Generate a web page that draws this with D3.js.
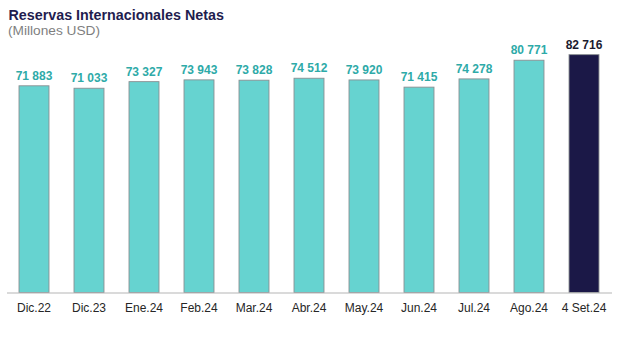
<!DOCTYPE html>
<html>
<head>
<meta charset="utf-8">
<script src="https://cdn.jsdelivr.net/npm/d3@7"></script>
<style>
  html, body { margin: 0; padding: 0; background: #fff; }
  svg { display: block; font-family: "Liberation Sans", Arial, sans-serif; }
</style>
</head>
<body>
<svg id="chart" width="620" height="339"></svg>
<script>
// Reservas Internacionales Netas, millones de USD
const categories = ["Dic.22", "Dic.23", "Ene.24", "Feb.24", "Mar.24", "Abr.24",
                    "May.24", "Jun.24", "Jul.24", "Ago.24", "4 Set.24"];
const values = [71883, 71033, 73327, 73943, 73828, 74512, 73920, 71415, 74278, 80771, 82716];
const valueLabels = ["71 883", "71 033", "73 327", "73 943", "73 828", "74 512",
                     "73 920", "71 415", "74 278", "80 771", "82 716"];
const highlighted = ["4 Set.24"];

const svg = d3.select("#chart");

const margin = { left: 6.5, right: 8.5, baseline: 292.5 };
const width = 620;

const x = d3.scaleBand()
  .domain(categories)
  .range([margin.left, width - margin.right])
  .paddingInner(0.455)
  .paddingOuter(0.2275);

const y = d3.scaleLinear()
  .domain([0, 90000])
  .range([margin.baseline, margin.baseline - 258.8]);

// Title block
svg.append("text")
  .attr("x", 8.5).attr("y", 19.5)
  .attr("font-size", 14.3).attr("font-weight", "bold")
  .attr("fill", "#1f1d4f")
  .text("Reservas Internacionales Netas");
svg.append("text")
  .attr("x", 8).attr("y", 35)
  .attr("font-size", 13.7)
  .attr("fill", "#7f7f7f")
  .text("(Millones USD)");

const data = categories.map((c, i) => ({ cat: c, value: values[i], label: valueLabels[i] }));

// Bars
svg.append("g").selectAll("rect")
  .data(data)
  .join("rect")
  .attr("x", d => x(d.cat))
  .attr("width", x.bandwidth())
  .attr("y", d => y(d.value))
  .attr("height", d => y(0) - y(d.value))
  .attr("fill", d => highlighted.includes(d.cat) ? "#1b1847" : "#66d3d0")
  .attr("stroke", "#8a8f92")
  .attr("stroke-width", 0.9);

// Value labels
svg.append("g").selectAll("text")
  .data(data)
  .join("text")
  .attr("x", d => x(d.cat) + x.bandwidth() / 2)
  .attr("y", d => y(d.value) - 6)
  .attr("text-anchor", "middle")
  .attr("font-size", 12)
  .attr("font-weight", "bold")
  .attr("fill", d => highlighted.includes(d.cat) ? "#1b1b2f" : "#2eaaa8")
  .text(d => d.label);

// Category axis
const axis = d3.axisBottom(x).tickSize(0).tickPadding(11);
const gx = svg.append("g")
  .attr("transform", `translate(0,${margin.baseline})`)
  .call(axis);
gx.select(".domain").attr("stroke", "#b5b5b5").attr("stroke-width", 1.2);
gx.selectAll(".tick text")
  .attr("font-size", 12)
  .attr("font-family", "Liberation Sans, Arial, sans-serif")
  .attr("fill", "#262626");
</script>
</body>
</html>
